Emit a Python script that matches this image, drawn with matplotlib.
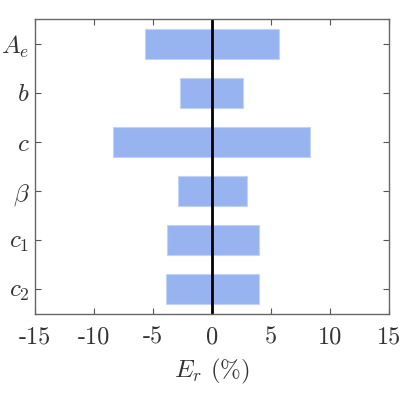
import matplotlib
matplotlib.use("Agg")
import matplotlib.pyplot as plt

params = [r"$A_e$", r"$b$", r"$c$", r"$\beta$", r"$c_1$", r"$c_2$"]
neg_err = [-5.7, -2.7, -8.35, -2.85, -3.85, -3.9]
pos_err = [5.7, 2.65, 8.3, 3.0, 3.95, 4.0]
xticks = [-15, -10, -5, 0, 5, 10, 15]
xtick_labels = ["-15", "-10", "-5", "0", "5", "10", "15"]

plt.rcParams["mathtext.fontset"] = "cm"
plt.rcParams["font.family"] = ["cmr10", "DejaVu Serif"]
plt.rcParams["axes.unicode_minus"] = False

fig = plt.figure(figsize=(4, 4), dpi=100)
ax = fig.add_axes([35/400, 1 - 313.7/400, (389-35)/400, (313.7-19.3)/400])

pos = list(range(1, len(params) + 1))
color = "#97b4f0"
ax.barh(pos, neg_err, height=0.6, color=color, edgecolor="#c3d3f5", linewidth=0.8)
ax.barh(pos, pos_err, height=0.6, color=color, edgecolor="#c3d3f5", linewidth=0.8)
ax.axvline(0, color="black", linewidth=2)

ax.set_xlim(-15, 15)
ax.set_ylim(6.5, 0.5)
ax.set_yticks(pos)
ax.set_yticklabels(params, fontsize=18)
ax.set_xticks(xticks)
ax.set_xticklabels(xtick_labels, fontsize=17.5)
ax.set_xlabel(r"$E_r$ (%)", fontsize=18, labelpad=6, color="#333333")

for s in ax.spines.values():
    s.set_color("#666666")
    s.set_linewidth(1.0)
ax.tick_params(direction="in", top=True, right=True, length=4, color="#555555",
               labelcolor="#333333")
ax.tick_params(axis="x", pad=9)
ax.tick_params(axis="y", pad=4)

fig.savefig("out.png", dpi=100)
